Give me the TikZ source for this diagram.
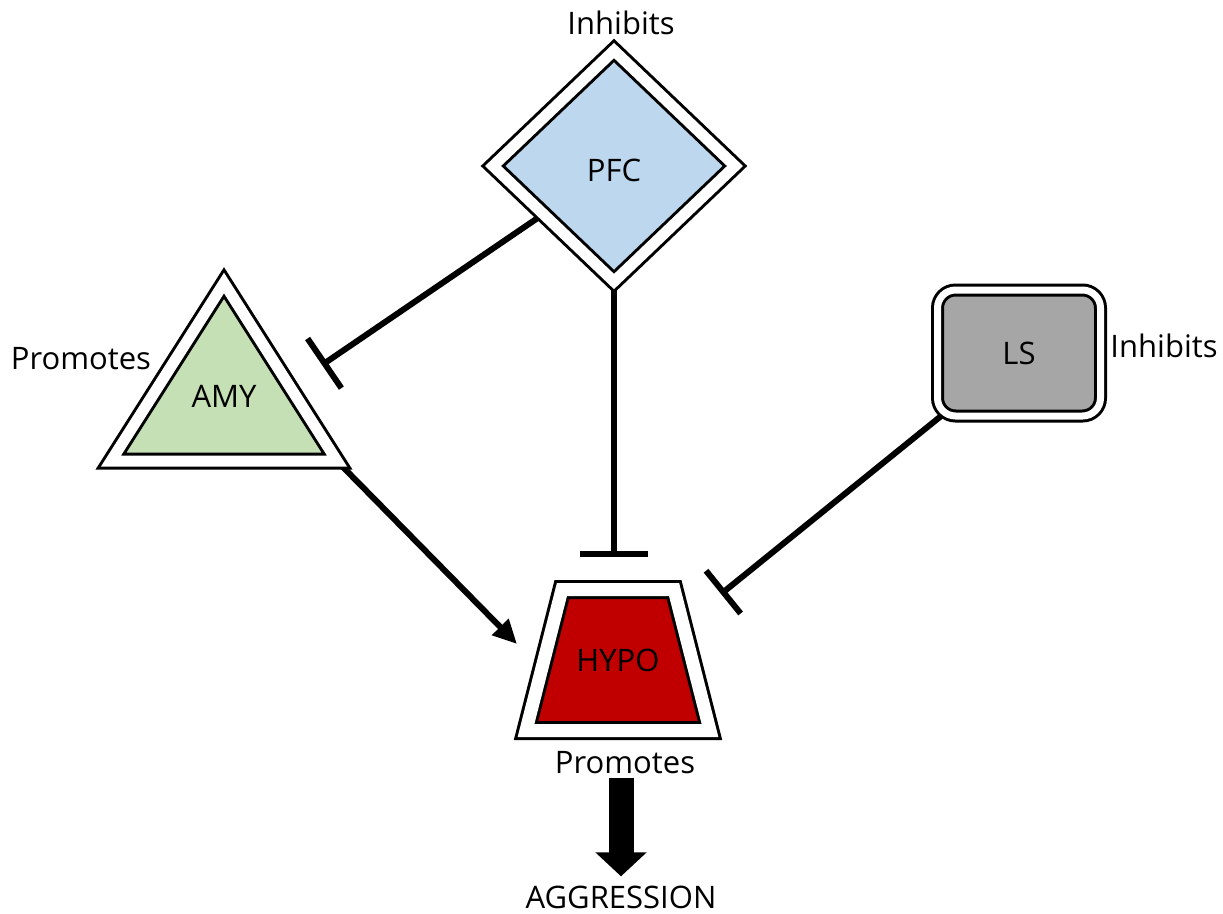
\documentclass[tikz,border=0pt]{standalone}
\usepackage{fontspec}
\setmainfont{Open Sans}
\usepackage{tikz}
\usetikzlibrary{shapes.geometric, arrows.meta, backgrounds}
\usepackage{xcolor}
\definecolor{pfcblue}{HTML}{BDD7EE}
\definecolor{amygreen}{HTML}{C5E0B4}
\definecolor{hypored}{HTML}{C00000}
\definecolor{lsgray}{HTML}{A6A6A6}

\begin{document}
\begin{tikzpicture}[x=1pt, y=-1pt, font=\fontsize{31}{37}\selectfont,
    region/.style={draw=black, line width=3pt, double=white, double distance=11pt, inner sep=0pt, outer sep=0pt},
    inhibit/.style={line width=6pt, -{Bar[width=60pt]}},
    promote/.style={line width=6pt, -{Triangle[length=24pt, width=22pt]}},
    tag/.style={inner sep=0pt, anchor=base}]
        \useasboundingbox (0,0) rectangle (1223,913);
        % Regions
        \node[region, diamond, fill=pfcblue, minimum width=242pt, minimum height=231pt, text height=32pt] (pfc) at (614,166) {PFC};
        \node[region, isosceles triangle, isosceles triangle apex angle=65, isosceles triangle stretches, shape border rotate=90,
              fill=amygreen, minimum width=226pt, minimum height=178pt, text depth=26pt, anchor=apex] (amy) at (224,283) {AMY};
        \node[region, trapezium, trapezium left angle=75.7, trapezium right angle=75.7, trapezium stretches body,
              fill=hypored, minimum width=184pt, text height=81.5pt, text depth=59.5pt, double distance=13pt] (hypo) at (618,660) {HYPO};
        \node[region, rectangle, rounded corners=18pt, fill=lsgray, minimum width=163pt, minimum height=126pt,
              double distance=7pt] (ls) at (1019,353) {LS};
        % Labels
        \node[tag] (pfclbl) at (621,34) {Inhibits};
        \node[tag] (amylbl) at (81,369) {Promotes};
        \node[tag] (lslbl) at (1164,357) {Inhibits};
        \node[tag] (hypolbl) at (625,773) {Promotes};
        \node[tag] (aggr) at (621,908) {AGGRESSION};
        % Connectors
        \coordinate (amybar) at (322,365);
        \coordinate (hypobar) at (614,557);
        \coordinate (lsbar) at (721,594);
        \coordinate (hypoarr) at (517,644);
        \begin{pgfonlayer}{background}
            \draw[inhibit] (pfc.center) -- (amybar);
            \draw[line width=6pt, -{Bar[width=68pt]}] (pfc.center) -- (hypobar);
            \draw[inhibit, -{Bar[width=55pt]}] (ls.center) -- (lsbar);
            \draw[promote] (amy.right corner) -- (hypoarr);
        \end{pgfonlayer}
        \draw[line width=25pt, -{Triangle[length=24pt, width=50pt]}, shorten <=4pt, shorten >=9pt]
            (aggr.north |- hypolbl.south) -- (aggr.north);
    \end{tikzpicture}
\end{document}
